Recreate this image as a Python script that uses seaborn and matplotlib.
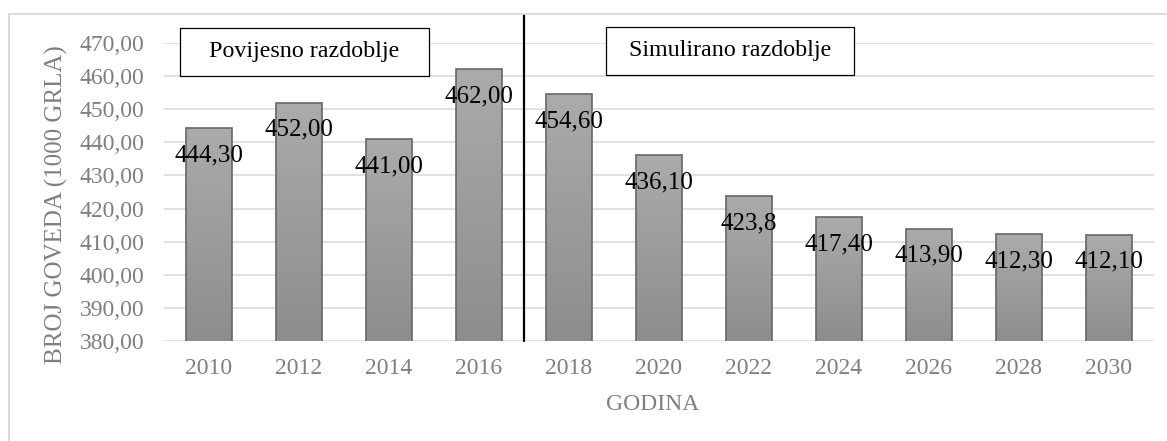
import numpy as np
import pandas as pd
import seaborn as sns
import matplotlib.pyplot as plt
import matplotlib.ticker as ticker
from matplotlib.patches import Rectangle
from matplotlib.lines import Line2D
from matplotlib.colors import LinearSegmentedColormap

years = ['2010', '2012', '2014', '2016', '2018', '2020', '2022', '2024', '2026', '2028', '2030']
cattle = [444.3, 452.0, 441.0, 462.0, 454.6, 436.1, 423.8, 417.4, 413.9, 412.3, 412.1]
labels = ['444,30', '452,00', '441,00', '462,00', '454,60', '436,10', '423,8',
          '417,40', '413,90', '412,30', '412,10']
periods = ['Povijesno razdoblje', 'Simulirano razdoblje']

df = pd.DataFrame({'Godina': years, 'Broj': cattle})

sns.set_theme(style='white')
plt.rcParams['font.family'] = ['Liberation Serif', 'DejaVu Serif']

W, H = 1167, 441
fig = plt.figure(figsize=(W / 100, H / 100), dpi=100)
ax = fig.add_axes([164 / W, 1 - 341 / H, 990 / W, 298 / H])


def fx(px):
    return px / W


def fy(py):
    return 1 - py / H


grey = '#7f7f7f'
sns.barplot(data=df, x='Godina', y='Broj', color='#9c9c9c', width=0.51,
            edgecolor='#666666', linewidth=1.2, ax=ax, zorder=3)

ymin, ymax = 380, 470
grad = np.linspace(0, 1, 256).reshape(-1, 1)
cmap = LinearSegmentedColormap.from_list('g', ['#ababab', '#8d8d8d'])
for bar in ax.patches:
    x0 = bar.get_x()
    x1 = x0 + bar.get_width()
    top = bar.get_height()
    bar.set_facecolor('none')
    im = ax.imshow(grad, extent=(x0, x1, ymin, top), origin='upper', aspect='auto',
                   cmap=cmap, zorder=2.5)
    im.set_clip_path(bar)

for i, (v, t) in enumerate(zip(cattle, labels)):
    ax.annotate(t, (i, v), xytext=(0, -19.5), textcoords='offset points',
                ha='center', va='center', fontsize=18, color='black', zorder=5)

ax.set_xlim(-0.5, len(years) - 0.5)
ax.set_ylim(ymin, ymax)
ax.yaxis.set_major_locator(ticker.MultipleLocator(10))
ax.yaxis.set_major_formatter(ticker.FuncFormatter(lambda v, p: f'{v:.2f}'.replace('.', ',')))
ax.grid(axis='y', color='#d9d9d9', linewidth=1.1)
ax.set_axisbelow(True)
for s in ax.spines.values():
    s.set_visible(False)
ax.tick_params(axis='both', length=0, labelsize=17, labelcolor=grey)
ax.tick_params(axis='y', pad=14)
ax.tick_params(axis='x', pad=12)
ax.set_xlabel('')
ax.set_ylabel('')

# divider between historical and simulated periods
ax.axvline(3.5, ymin=0, ymax=(341 - 15) / 298, color='black', linewidth=1.6,
           clip_on=False, zorder=4)

fig.text(fx(56), fy(205), 'BROJ GOVEDA (1000 GRLA)', rotation=90, ha='center',
         va='center', fontsize=18, color=grey)
fig.text(fx(653), fy(404), 'GODINA', ha='center', va='center', fontsize=17, color=grey)

boxes = [(180, 28, 429, 76), (606, 27, 854, 75)]
for (l, t, r, b), name in zip(boxes, periods):
    fig.patches.append(Rectangle((fx(l), fy(b)), fx(r) - fx(l), fy(t) - fy(b),
                                 transform=fig.transFigure, facecolor='white',
                                 edgecolor='black', linewidth=0.9, zorder=6))
    fig.text((fx(l) + fx(r)) / 2, (fy(t) + fy(b)) / 2, name, ha='center', va='center',
             fontsize=17.3, color='black', zorder=7)

# chart area border
fig.lines.append(Line2D([fx(8.5), fx(8.5)], [fy(14), 0], transform=fig.transFigure,
                        color='#d9d9d9', linewidth=1.3))
fig.lines.append(Line2D([fx(8.5), 1], [fy(14), fy(14)], transform=fig.transFigure,
                        color='#d9d9d9', linewidth=1.3))

fig.savefig('out.png', dpi=100)
